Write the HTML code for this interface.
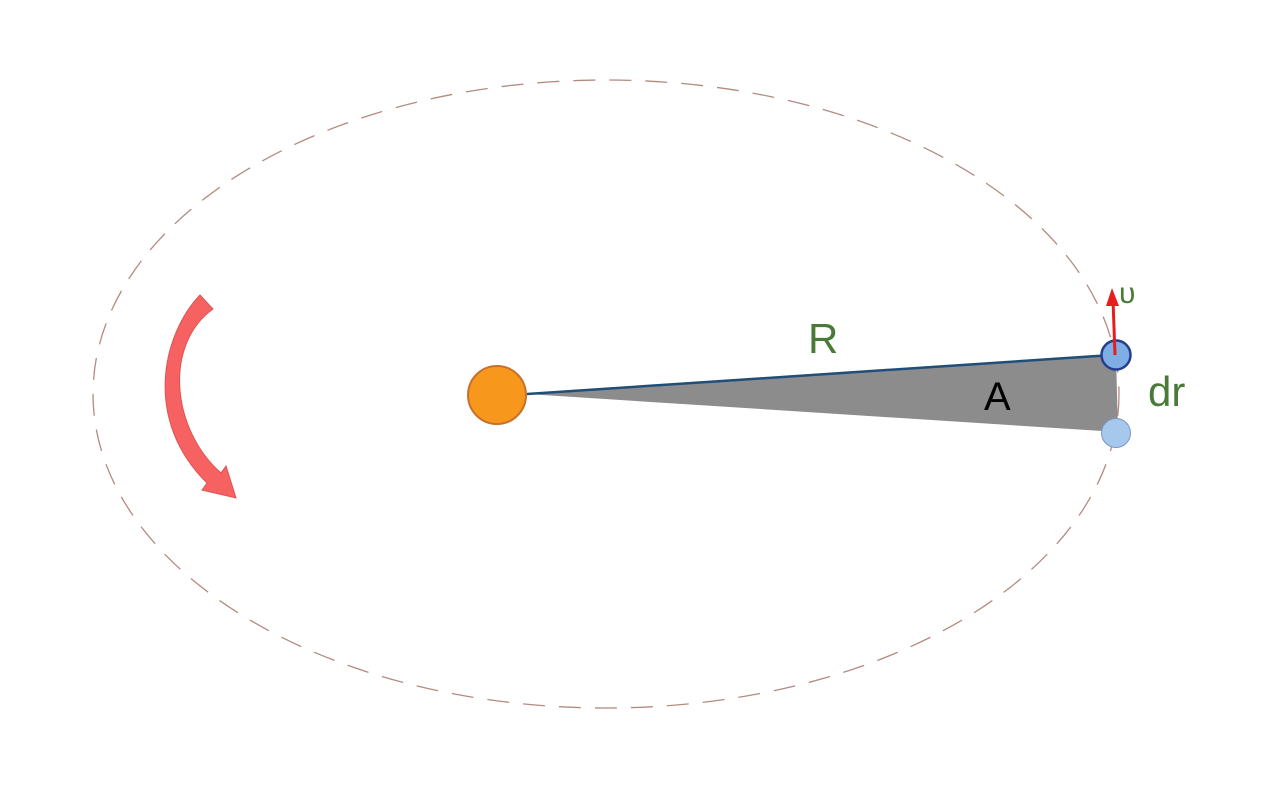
<!DOCTYPE html>
<html><head><meta charset="utf-8"><style>
html,body{margin:0;padding:0;background:#fff;}
svg{display:block;}
text{font-family:"Liberation Sans",sans-serif;}
</style></head><body>
<svg width="1270" height="796" viewBox="0 0 1270 796">
<ellipse cx="606" cy="394" rx="513" ry="314" fill="none" stroke="#b48a80" stroke-width="1.3" stroke-dasharray="22,14"/>
<polygon points="527,394 1116,355 1118,432" fill="#8c8c8c"/>
<line x1="527" y1="394" x2="1112" y2="355" stroke="#1f4e79" stroke-width="2.5"/>
<circle cx="497" cy="395" r="29" fill="#f7981d" stroke="#c8702a" stroke-width="2"/>
<circle cx="1116" cy="433" r="14.5" fill="#a6c8ec" stroke="#7a96c8" stroke-width="1"/>
<circle cx="1116" cy="355" r="14.5" fill="#7eaee4" stroke="#253f8f" stroke-width="2.5"/>
<line x1="1115" y1="355" x2="1113" y2="300" stroke="#e81d1d" stroke-width="3"/>
<polygon points="1112,288 1106,306 1119,306" fill="#e81d1d"/>
<path d="M200,295 C162,335 143,420 207,483 L202,490 L236,498 L226,466 L221,473 C172,430 163,345 213,309 Z" fill="#f65a5a" stroke="#e04848" stroke-width="1" opacity="0.95"/>
<text x="1119" y="303" font-size="30" fill="#4a7a38">υ</text>
<text x="808" y="353" font-size="42" fill="#4a7a38">R</text>
<text x="984" y="410" font-size="40" fill="#000">A</text>
<text x="1148" y="406" font-size="42" fill="#4a7a38">dr</text>
</svg>
</body></html>
